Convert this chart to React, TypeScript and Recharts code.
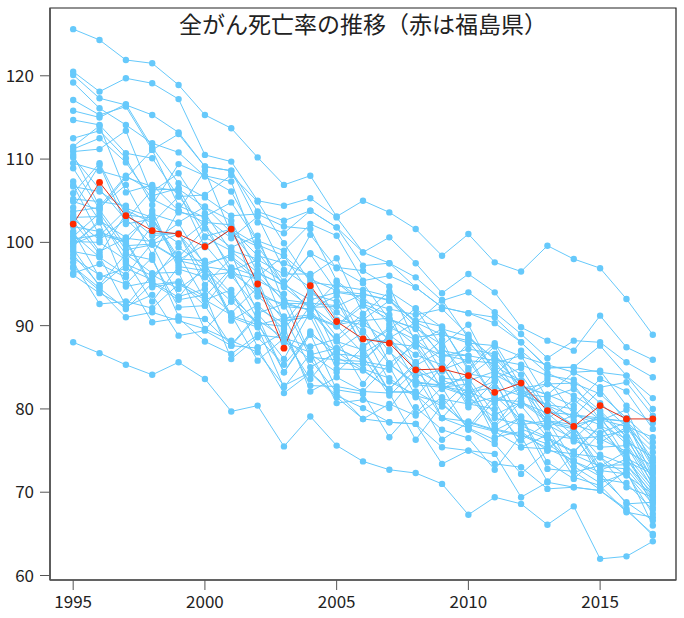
import React from "react";
import { LineChart, Line, XAxis, YAxis, ReferenceArea } from "recharts";

const YEARS = [
  1995, 1996, 1997, 1998, 1999, 2000, 2001, 2002, 2003, 2004, 2005, 2006,
  2007, 2008, 2009, 2010, 2011, 2012, 2013, 2014, 2015, 2016, 2017,
];

const X_TICKS = [1995, 2000, 2005, 2010, 2015];
const Y_TICKS = [60, 70, 80, 90, 100, 110, 120];

// 福島県 (drawn in red on top of the rest)
const p07 = [102.2, 107.2, 103.2, 101.4, 101.0, 99.5, 101.6, 95.0, 87.3, 94.8, 90.5, 88.4, 87.9, 84.7, 84.8, 84.0, 82.0, 83.1, 79.8, 77.9, 80.4, 78.8, 78.8];

// other prefectures
const p02 = [125.6, 124.3, 121.9, 121.5, 118.9, 115.3, 113.7, 110.2, 106.9, 108.0, 103.1, 105.0, 103.6, 101.6, 98.4, 101.0, 97.6, 96.5, 99.6, 98.0, 96.9, 93.2, 88.9];
const p05 = [120.5, 118.1, 119.7, 119.1, 117.2, 110.5, 109.7, 105.0, 104.4, 105.3, 103.0, 98.8, 100.6, 97.5, 93.9, 96.2, 94.0, 89.8, 88.2, 87.0, 91.2, 87.4, 85.9];
const p01 = [120.1, 117.3, 116.5, 115.3, 113.2, 109.1, 108.6, 102.4, 101.1, 103.8, 101.8, 97.2, 97.5, 95.8, 93.0, 94.0, 91.6, 89.0, 86.1, 88.2, 88.0, 85.6, 83.8];
const p03 = [119.2, 116.1, 114.1, 111.9, 110.8, 107.9, 106.1, 100.2, 99.0, 102.2, 100.8, 95.4, 96.0, 94.6, 92.2, 91.5, 90.3, 88.0, 85.0, 85.0, 87.6, 84.0, 81.3];
const p04 = [117.1, 115.3, 116.3, 111.1, 113.0, 109.1, 108.6, 103.7, 102.6, 103.8, 101.8, 98.8, 97.5, 94.6, 92.2, 91.5, 91.0, 88.0, 84.9, 85.0, 84.4, 84.0, 80.0];
const p06 = [115.8, 115.0, 116.6, 111.4, 107.1, 105.4, 103.2, 103.4, 101.9, 101.6, 95.4, 92.9, 92.0, 91.3, 92.0, 88.9, 84.7, 81.9, 81.4, 82.4, 79.8, 76.7, 72.6];
const p08 = [114.7, 114.1, 110.7, 110.1, 105.5, 105.7, 108.1, 104.9, 99.9, 95.2, 94.8, 94.3, 93.5, 90.3, 93.1, 88.5, 86.1, 82.7, 81.7, 84.4, 84.6, 80.4, 78.3];
const p09 = [112.5, 113.4, 110.1, 104.5, 109.4, 108.0, 107.3, 98.8, 94.8, 98.7, 97.0, 96.6, 94.7, 87.9, 89.6, 88.7, 85.9, 85.3, 84.0, 83.5, 80.7, 77.9, 76.6];
const p10 = [111.5, 114.0, 106.0, 106.9, 103.8, 108.6, 101.0, 99.5, 95.3, 100.9, 96.9, 95.1, 90.7, 89.7, 87.7, 90.1, 84.1, 87.0, 84.3, 82.9, 78.7, 77.9, 74.8];
const p11 = [111.2, 112.5, 109.6, 105.2, 103.6, 103.1, 104.8, 100.1, 94.6, 92.2, 92.3, 93.8, 93.1, 90.4, 86.2, 87.2, 86.6, 82.4, 78.6, 78.1, 78.8, 78.5, 71.8];
const p12 = [110.9, 111.2, 113.4, 105.6, 106.5, 100.7, 101.6, 98.4, 97.5, 96.0, 98.1, 91.4, 94.1, 92.0, 89.8, 84.9, 87.9, 82.8, 81.7, 80.4, 83.6, 82.1, 77.6];
const p13 = [110.5, 104.3, 108.0, 106.1, 108.3, 103.5, 98.9, 96.4, 94.8, 98.6, 94.1, 93.8, 93.0, 89.9, 86.5, 85.8, 85.5, 86.4, 81.2, 78.6, 76.0, 77.8, 73.6];
const p14 = [110.2, 106.4, 102.7, 106.3, 106.4, 104.2, 102.6, 96.3, 94.9, 93.1, 94.0, 93.5, 90.2, 87.6, 83.7, 83.4, 84.5, 83.3, 78.9, 76.1, 75.4, 75.6, 70.4];
const p15 = [109.5, 108.6, 107.7, 111.1, 104.4, 103.0, 100.5, 103.1, 96.7, 94.6, 90.1, 90.7, 93.0, 90.6, 89.9, 84.6, 87.5, 81.7, 80.4, 79.1, 82.3, 78.5, 75.4];
const p16 = [108.9, 104.0, 107.8, 106.7, 106.1, 99.4, 101.6, 99.7, 98.4, 93.8, 92.9, 87.6, 89.5, 92.1, 87.4, 83.9, 86.3, 84.1, 79.6, 79.3, 78.9, 78.5, 73.9];
const p17 = [107.3, 102.6, 100.6, 103.4, 102.4, 104.3, 101.2, 97.3, 95.2, 91.9, 88.2, 90.8, 86.9, 83.9, 84.7, 85.9, 81.1, 82.4, 80.4, 77.8, 74.2, 72.0, 69.8];
const p18 = [106.9, 100.8, 103.9, 102.3, 105.5, 101.7, 97.0, 95.9, 98.4, 95.6, 94.2, 88.4, 88.1, 85.6, 88.3, 82.0, 82.6, 81.6, 83.6, 79.3, 78.1, 73.7, 72.2];
const p19 = [106.7, 106.1, 104.1, 103.0, 97.8, 97.1, 96.6, 97.9, 96.2, 96.2, 90.7, 90.1, 88.5, 90.4, 88.9, 88.2, 84.1, 82.5, 83.0, 83.1, 81.8, 78.9, 76.0];
const p20 = [88.0, 86.7, 85.3, 84.1, 85.6, 83.6, 79.7, 80.4, 75.5, 79.1, 75.6, 73.7, 72.7, 72.3, 71.0, 67.3, 69.4, 68.6, 66.1, 68.3, 62.0, 62.3, 64.1];
const p21 = [105.9, 109.5, 103.3, 102.9, 98.2, 101.7, 99.4, 100.8, 92.7, 92.6, 88.7, 91.4, 85.5, 87.7, 86.5, 86.4, 81.1, 80.9, 78.8, 81.1, 78.7, 75.8, 71.1];
const p22 = [105.2, 104.9, 104.4, 98.5, 103.8, 102.4, 102.1, 93.6, 92.6, 91.9, 95.2, 92.6, 91.3, 85.2, 87.0, 86.4, 85.8, 81.3, 83.0, 81.6, 79.6, 76.1, 74.2];
const p23 = [104.9, 103.9, 99.6, 99.8, 97.9, 99.7, 96.0, 92.1, 90.3, 94.2, 91.6, 89.4, 85.4, 83.1, 82.9, 83.7, 79.3, 80.8, 79.5, 76.8, 72.6, 72.2, 68.6];
const p24 = [104.2, 109.3, 102.2, 102.8, 97.4, 100.6, 99.0, 98.0, 90.5, 91.1, 89.9, 92.4, 90.8, 89.6, 84.5, 87.9, 85.1, 83.4, 77.8, 79.3, 78.6, 79.9, 73.0];
const p25 = [103.7, 104.2, 106.9, 101.1, 101.1, 96.0, 96.4, 94.1, 92.3, 92.0, 93.6, 87.4, 89.8, 88.3, 85.9, 81.0, 84.3, 78.7, 78.1, 76.4, 79.3, 76.7, 70.8];
const p26 = [103.3, 98.9, 100.5, 100.1, 102.3, 97.2, 93.9, 90.1, 90.9, 91.3, 90.0, 86.7, 88.6, 84.7, 81.2, 80.6, 81.4, 80.4, 76.6, 73.1, 71.1, 72.3, 67.4];
const p27 = [103.0, 103.1, 97.7, 102.0, 99.9, 102.4, 96.3, 95.6, 88.0, 92.4, 90.0, 92.8, 87.9, 87.5, 82.4, 84.2, 83.7, 84.9, 80.0, 78.1, 77.1, 78.4, 72.9];
const p28 = [102.8, 100.3, 102.8, 99.8, 101.0, 97.5, 98.3, 95.9, 93.1, 92.7, 92.4, 90.6, 90.9, 88.6, 89.0, 87.9, 87.6, 86.3, 85.3, 84.4, 82.6, 83.2, 79.2];
const p29 = [102.5, 98.6, 103.4, 100.8, 101.1, 94.9, 98.1, 95.4, 93.8, 86.5, 87.3, 85.8, 88.9, 86.5, 85.3, 80.2, 83.3, 77.6, 76.4, 74.8, 77.9, 74.0, 69.5];
const p30 = [101.9, 101.3, 99.9, 103.8, 96.8, 95.8, 92.9, 96.7, 92.8, 91.8, 85.5, 85.4, 84.7, 88.3, 83.5, 82.1, 80.7, 82.9, 76.9, 76.4, 76.7, 77.4, 71.4];
const p31 = [101.3, 95.8, 96.9, 95.5, 99.4, 97.2, 98.6, 91.5, 92.6, 86.2, 85.9, 85.7, 85.1, 79.5, 82.6, 81.5, 78.9, 78.1, 78.6, 73.7, 71.9, 68.8, 66.6];
const p32 = [101.0, 98.2, 96.1, 99.9, 98.0, 97.8, 90.6, 92.5, 89.6, 93.3, 86.6, 86.3, 81.6, 84.7, 82.9, 81.5, 78.1, 81.8, 80.5, 80.0, 76.4, 74.9, 73.2];
const p33 = [100.7, 103.5, 99.1, 99.7, 93.5, 94.4, 91.5, 94.6, 90.6, 91.1, 84.8, 84.7, 82.4, 85.3, 82.6, 83.0, 76.6, 77.3, 75.0, 77.8, 73.1, 72.8, 69.0];
const p34 = [100.4, 100.9, 100.1, 94.6, 95.2, 93.5, 96.9, 93.5, 91.1, 85.0, 86.8, 84.8, 83.7, 81.4, 85.1, 80.6, 80.0, 76.2, 78.3, 77.6, 79.2, 74.1, 72.4];
const p35 = [100.1, 100.0, 97.9, 92.9, 97.1, 96.6, 93.5, 90.4, 84.4, 88.9, 87.0, 89.2, 83.3, 81.7, 78.9, 82.5, 77.6, 76.9, 75.3, 77.4, 71.6, 71.1, 67.9];
const p36 = [99.9, 102.4, 94.7, 95.3, 93.4, 97.3, 91.2, 90.1, 86.0, 91.7, 88.1, 87.1, 82.0, 82.1, 80.3, 83.3, 77.9, 80.8, 78.5, 77.8, 72.6, 74.0, 70.2];
const p37 = [99.8, 101.1, 100.3, 94.9, 95.3, 92.4, 96.6, 90.7, 88.5, 83.6, 87.3, 85.8, 88.6, 83.3, 82.7, 82.1, 83.3, 78.0, 76.6, 74.9, 78.0, 76.4, 71.6];
const p38 = [99.5, 102.7, 98.6, 97.9, 92.2, 92.4, 87.6, 91.1, 84.4, 89.3, 86.2, 84.6, 82.4, 85.6, 78.9, 78.5, 77.5, 76.7, 71.3, 74.5, 73.1, 74.9, 68.2];
const p39 = [99.2, 94.7, 97.4, 96.0, 98.6, 93.1, 91.3, 85.8, 88.5, 87.5, 88.4, 83.0, 87.1, 81.6, 80.7, 77.8, 81.6, 78.7, 77.8, 72.4, 73.2, 73.3, 69.9];
const p40 = [98.9, 98.3, 92.4, 96.1, 94.4, 96.7, 91.0, 89.8, 82.6, 86.6, 84.4, 87.4, 82.1, 81.9, 76.3, 78.4, 77.4, 79.0, 72.8, 72.5, 70.3, 72.6, 66.0];
const p41 = [98.5, 94.9, 98.6, 96.3, 96.4, 89.5, 92.9, 90.3, 89.9, 82.1, 83.8, 82.1, 85.4, 82.9, 82.6, 77.5, 81.0, 75.4, 75.2, 73.8, 77.1, 74.4, 70.6];
const p42 = [98.1, 96.1, 95.0, 98.2, 91.1, 90.8, 87.7, 91.4, 88.0, 86.8, 80.7, 81.1, 80.1, 84.0, 78.9, 77.7, 76.3, 79.1, 73.6, 71.6, 74.5, 73.3, 69.2];
const p43 = [97.6, 92.6, 92.9, 92.1, 95.0, 93.1, 94.3, 87.4, 89.2, 82.8, 82.7, 82.1, 81.9, 76.3, 80.5, 78.1, 77.3, 75.4, 76.9, 71.8, 70.8, 67.6, 67.0];
const p44 = [97.1, 94.5, 92.0, 95.1, 93.1, 93.7, 86.0, 88.6, 85.3, 89.0, 82.3, 81.8, 76.6, 80.2, 77.5, 76.5, 72.7, 76.9, 75.8, 73.7, 72.4, 68.6, 68.8];
const p45 = [96.9, 94.2, 91.0, 91.6, 90.6, 89.6, 88.2, 86.8, 82.8, 84.4, 81.6, 80.1, 78.4, 78.2, 75.4, 75.0, 74.6, 69.4, 71.2, 70.6, 70.2, 67.8, 65.0];
const p46 = [96.3, 97.4, 95.8, 90.4, 90.9, 88.1, 86.6, 88.9, 88.5, 85.9, 82.0, 78.8, 80.6, 79.2, 81.4, 77.6, 75.8, 72.2, 75.0, 74.6, 74.2, 70.6, 69.4];
const p47 = [96.1, 93.9, 92.3, 93.7, 88.8, 89.4, 87.6, 87.3, 81.9, 84.3, 81.4, 78.8, 78.4, 78.2, 73.4, 75.0, 73.4, 73.0, 70.4, 70.6, 70.2, 68.0, 64.8];

const OTHERS: Record<string, number[]> = {
  p01, p02, p03, p04, p05, p06, p08, p09, p10, p11, p12, p13, p14, p15, p16,
  p17, p18, p19, p20, p21, p22, p23, p24, p25, p26, p27, p28, p29, p30, p31,
  p32, p33, p34, p35, p36, p37, p38, p39, p40, p41, p42, p43, p44, p45, p46, p47,
};

const rows = YEARS.map((year, i) => {
  const row: Record<string, number> = { year, p07: p07[i] };
  for (const [k, v] of Object.entries(OTHERS)) row[k] = v[i];
  return row;
});

// plot region padded 4% past the data range on each side
const X_DOMAIN: [number, number] = [1994.12, 2017.88];
const Y_DOMAIN: [number, number] = [59.46, 128.14];

const BLUE = "#66c9fb";
const RED = "#ff2a00";
const INK = "#222";
const FONT = "'Noto Sans CJK JP', 'Noto Sans', sans-serif";

export default function App() {
  const tick = { fill: INK, fontSize: 17, fontFamily: FONT };
  return (
    <div style={{ position: "absolute", left: 0, top: 0, background: "#fff" }}>
      <LineChart
        width={684}
        height={618}
        data={rows}
        margin={{ top: 8, right: 8, bottom: 0, left: 0 }}
      >
        <ReferenceArea
          x1={X_DOMAIN[0]}
          x2={X_DOMAIN[1]}
          y1={Y_DOMAIN[0]}
          y2={Y_DOMAIN[1]}
          fill="none"
          stroke={INK}
          strokeWidth={1.2}
          ifOverflow="visible"
        />
        <XAxis
          dataKey="year"
          type="number"
          domain={X_DOMAIN}
          allowDataOverflow
          ticks={X_TICKS}
          height={38}
          tickSize={10}
          tickMargin={6}
          tick={tick}
          stroke="#555"
          axisLine={{ stroke: "#555", strokeWidth: 1.5 }}
        />
        <YAxis
          type="number"
          domain={Y_DOMAIN}
          allowDataOverflow
          ticks={Y_TICKS}
          width={50}
          tickSize={10}
          tickMargin={6}
          tick={tick}
          stroke="#555"
          axisLine={{ stroke: "#555", strokeWidth: 1.5 }}
        />
        {Object.keys(OTHERS).map((k) => (
          <Line
            key={k}
            dataKey={k}
            stroke={BLUE}
            strokeWidth={1}
            dot={{ r: 3.2, fill: BLUE, stroke: "none" }}
            activeDot={false}
            isAnimationActive={false}
          />
        ))}
        <Line
          dataKey="p07"
          stroke="#e0301a"
          strokeWidth={1}
          dot={{ r: 3.4, fill: RED, stroke: "none" }}
          activeDot={false}
          isAnimationActive={false}
        />
        <text
          x={363}
          y={23}
          textAnchor="middle"
          dominantBaseline="central"
          fontSize={23}
          fontFamily={FONT}
          fill={INK}
        >
          全がん死亡率の推移（赤は福島県）
        </text>
      </LineChart>
    </div>
  );
}
